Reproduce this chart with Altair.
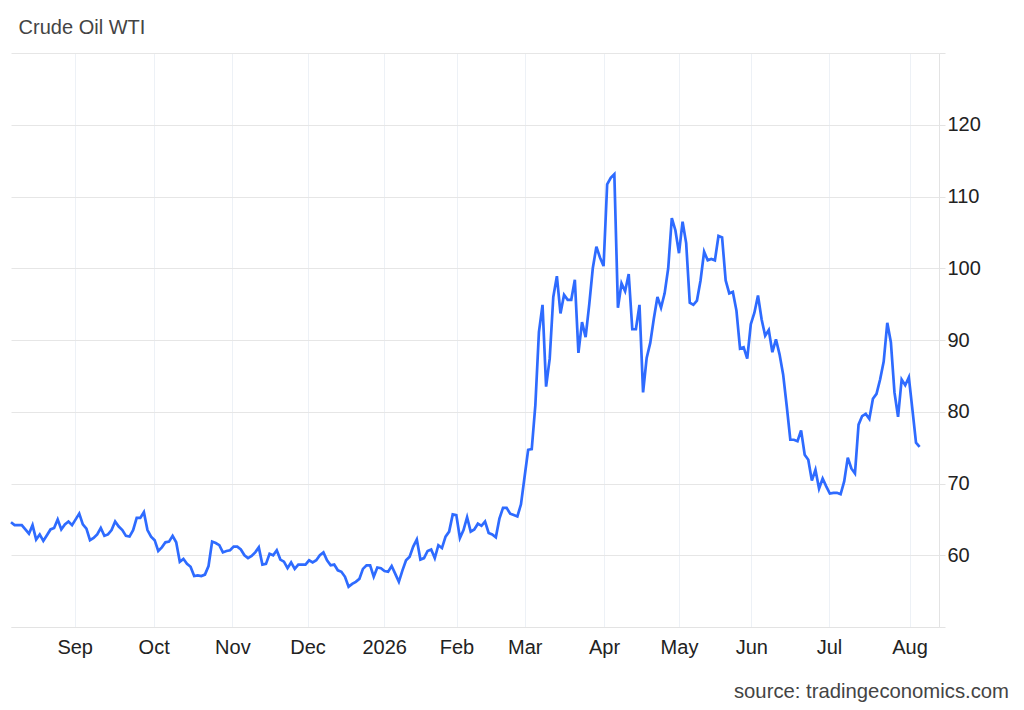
import pandas as pd
import altair as alt

# WTI closes, one value per trading session
prices_aug_oct = [64.6, 64.2, 64.2, 64.2, 63.6, 63.0, 64.2, 62.2, 62.9, 62.0,
                  62.8, 63.6, 63.8, 65.0, 63.6, 64.3, 64.7, 64.2, 65.0, 65.8,
                  64.3, 63.7, 62.1, 62.4, 62.9, 63.8, 62.7, 62.9, 63.5, 64.7,
                  64.0, 63.5, 62.7, 62.6, 63.5, 65.2, 65.2, 66.0, 63.5, 62.6,
                  62.1]
prices_oct_dec = [60.6, 61.1, 61.8, 61.9, 62.7, 61.8, 59.1, 59.5, 58.8, 58.4,
                  57.1, 57.2, 57.1, 57.3, 58.5, 61.9, 61.7, 61.4, 60.4, 60.6,
                  60.7, 61.2, 61.2, 60.8, 60.0, 59.6, 59.9, 60.4, 61.1, 58.7,
                  58.8, 60.2, 60.0, 60.7, 59.4, 59.1, 58.2, 59.0, 58.1, 58.7,
                  58.7, 58.7, 59.3]
prices_dec_feb = [59.0, 59.3, 60.0, 60.4, 59.3, 58.6, 58.7, 57.9, 57.7, 57.0,
                  55.6, 56.0, 56.3, 56.7, 58.1, 58.6, 58.6, 57.0, 58.3, 58.2,
                  57.8, 57.7, 58.5, 57.4, 56.3, 57.9, 59.3, 59.8, 61.2, 62.2,
                  59.4, 59.6, 60.6, 60.8, 59.6, 61.4, 61.0, 62.6, 63.3, 65.7,
                  65.6, 62.4, 63.5, 65.3, 63.3, 63.6, 64.4]
prices_feb_may = [64.1, 64.7, 63.1, 62.9, 62.5, 65.1, 66.6, 66.6, 65.8, 65.6,
                  65.4, 67.1, 70.9, 74.7, 74.8, 80.9, 91.1, 94.9, 83.5, 87.4,
                  96.0, 98.9, 93.7, 96.3, 95.6, 95.6, 98.4, 88.2, 92.5, 90.4,
                  94.9, 100.0, 103.0, 101.5, 100.3, 111.7, 112.6, 113.1, 94.5, 97.9,
                  96.8, 99.2, 91.5, 91.5, 94.9, 82.7, 87.5, 89.6, 93.0, 96.0,
                  94.5, 96.5, 100.0, 107.0, 105.3, 102.1, 106.5, 103.5, 95.2]
prices_may_aug = [94.9, 95.5, 98.3, 102.3, 101.1, 101.3, 101.1, 104.5, 104.3, 98.3,
                  96.5, 96.7, 94.1, 88.8, 89.0, 87.4, 92.2, 93.8, 96.2, 92.9,
                  90.6, 91.4, 88.3, 90.1, 88.0, 85.2, 80.8, 76.1, 76.1, 75.9,
                  77.4, 74.0, 73.3, 70.4, 71.9, 69.3, 70.7, 69.6, 68.6, 68.7,
                  68.7, 68.5, 70.3, 73.6, 72.1, 71.4, 78.2, 79.4, 79.7, 79.0,
                  81.8, 82.5, 84.5, 87.0, 92.4, 89.7, 82.7, 79.3, 84.5, 83.7,
                  84.8, 80.3, 75.7, 75.1]

prices = prices_aug_oct + prices_oct_dec + prices_dec_feb + prices_feb_may + prices_may_aug

# month boundaries in session units, and their labels
month_ticks = [17.73, 39.72, 61.65, 82.58, 103.9, 124.05, 143.06, 165.13, 186.0, 206.15, 227.75, 250.2]
month_labels = ["Sep", "Oct", "Nov", "Dec", "2026", "Feb", "Mar", "Apr", "May", "Jun", "Jul", "Aug"]
y_ticks = [50, 60, 70, 80, 90, 100, 110, 120, 130]

df = pd.DataFrame({"session": range(len(prices)), "price": prices})

font = "Liberation Sans"
label_expr = ("[" + ",".join(f"'{m}'" for m in month_labels) + "][indexof(["
              + ",".join(str(t) for t in month_ticks) + "], datum.value)]")

line = alt.Chart(df).mark_line(color="#2e6bff", strokeWidth=2.7).encode(
    x=alt.X("session:Q",
            scale=alt.Scale(domain=[0, 258.4], nice=False, zero=False),
            axis=alt.Axis(values=month_ticks, labelExpr=label_expr, title=None,
                          gridColor="#edf1f6", ticks=False, domainColor="#e3e3e3",
                          labelFont=font, labelFontSize=20, labelColor="#222",
                          labelPadding=10, labelOverlap=False, labelFlush=False)),
    y=alt.Y("price:Q",
            scale=alt.Scale(domain=[50, 130], nice=False, zero=False),
            axis=alt.Axis(orient="right", values=y_ticks, title=None,
                          labelExpr="datum.value == 50 || datum.value == 130 ? '' : datum.label",
                          gridColor="#e6e6e6", domainColor="#e3e3e3", tickColor="#e3e3e3",
                          tickSize=6, labelPadding=2, labelFont=font, labelFontSize=20,
                          labelColor="#222")),
)

source = alt.Chart(pd.DataFrame({"t": ["source: tradingeconomics.com"]})).mark_text(
    align="right", baseline="alphabetic", font=font, fontSize=20.3, color="#444"
).encode(text="t:N", x=alt.value(998), y=alt.value(645))

chart = alt.layer(line, source).properties(
    width=928,
    height=574,
    title=alt.TitleParams("Crude Oil WTI", anchor="start", dx=13, offset=15,
                          font=font, fontSize=20, fontWeight="normal", color="#444"),
    padding={"left": 3, "top": 45, "right": 77, "bottom": 75},
    autosize=alt.AutoSizeParams(type="none"),
).configure_view(stroke=None)

chart.save("out.html", embed_options={"renderer": "svg", "actions": False})
